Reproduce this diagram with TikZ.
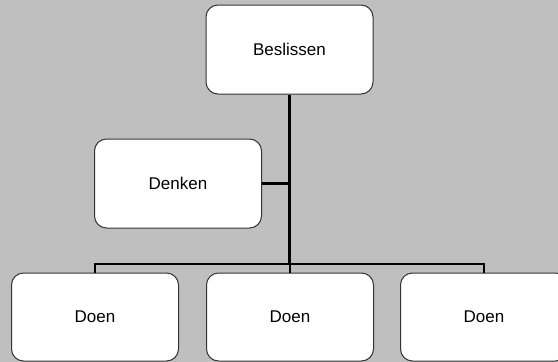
\documentclass[tikz,border=0pt]{standalone}
\usepackage{fontspec}
\setmainfont{Liberation Sans}
\usetikzlibrary{shapes}
\tikzstyle{box}=[rectangle,rounded corners=12pt,draw=black!80,line width=1pt,fill=white,minimum width=167pt,minimum height=89pt,inner sep=0pt,font=\fontsize{17}{20}\selectfont]
\tikzstyle{conn}=[line width=2.6pt,black]

\begin{document}
\begin{tikzpicture}[x=1pt,y=-1pt]
\fill[black!25] (0,0) rectangle (558,362);
\useasboundingbox (0,0) rectangle (558,362);
\clip (0,0) rectangle (558,362);
\draw (289.5,49.5) node[box] (besl) {Beslissen};
\draw (178,183.5) node[box] (denk) {Denken};
\draw (95,317) node[box,minimum height=88pt] (doen1) {Doen};
\draw (290,317) node[box,minimum height=88pt] (doen2) {Doen};
\draw (484,317) node[box,minimum height=88pt] (doen3) {Doen};
\coordinate (split) at (289.5,264);
\draw[conn] (besl.south) -- (split);
\draw[conn] (denk.east) -- (denk.east -| split);
\draw[conn] (doen1.north) |- (split) -| (doen3.north);
\draw[conn] (split) -- (split -| doen2.north) -- (doen2.north);
\end{tikzpicture}
\end{document}
